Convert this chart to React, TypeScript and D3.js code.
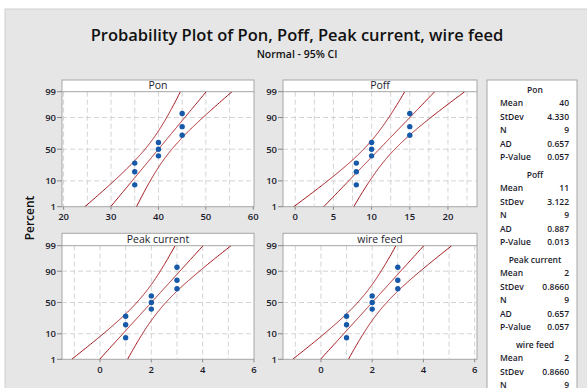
import React from 'react';
import * as d3 from 'd3';

const seriesNames = ['Pon', 'Poff', 'Peak current', 'wire feed'];
const ponValues = [35, 35, 35, 40, 40, 40, 45, 45, 45];
const poffValues = [8, 8, 8, 10, 10, 10, 15, 15, 15];
const peakValues = [1, 1, 1, 2, 2, 2, 3, 3, 3];
const wireValues = [1, 1, 1, 2, 2, 2, 3, 3, 3];
const allValues = [ponValues, poffValues, peakValues, wireValues];

const meanValues = [40, 11, 2, 2];
const stdevValues = [4.33, 3.122, 0.866, 0.866];
const meanLabels = ['40', '11', '2', '2'];
const stdevLabels = ['4.330', '3.122', '0.8660', '0.8660'];
const nLabels = ['9', '9', '9', '9'];
const adLabels = ['0.657', '0.887', '0.657', '0.657'];
const pLabels = ['0.057', '0.013', '0.057', '0.057'];

const xDomains: [number, number][] = [[19.66, 60.15], [-1.6, 23.8], [-1.48, 6.0], [-1.48, 6.09]];
const xTickValues = [[20, 30, 40, 50, 60], [0, 5, 10, 15, 20], [0, 2, 4, 6], [0, 2, 4, 6]];
const xGridSteps = [5, 2.5, 1, 1];
const yTickPercents = [1, 10, 50, 90, 99];
const yGridPercents = [10, 50, 90];

// inverse normal CDF (Acklam)
function qnorm(p: number): number {
  const a = [-3.969683028665376e1, 2.209460984245205e2, -2.759285104469687e2, 1.38357751867269e2, -3.066479806614716e1, 2.506628277459239];
  const b = [-5.447609879822406e1, 1.615858368580409e2, -1.556989798598866e2, 6.680131188771972e1, -1.328068155288572e1];
  const c = [-7.784894002430293e-3, -3.223964580411365e-1, -2.400758277161838, -2.549732539343734, 4.374664141464968, 2.938163982698783];
  const d = [7.784695709041462e-3, 3.224671290700398e-1, 2.445134137142996, 3.754408661907416];
  const pl = 0.02425;
  let q, r;
  if (p < pl) {
    q = Math.sqrt(-2 * Math.log(p));
    return (((((c[0] * q + c[1]) * q + c[2]) * q + c[3]) * q + c[4]) * q + c[5]) / ((((d[0] * q + d[1]) * q + d[2]) * q + d[3]) * q + 1);
  } else if (p <= 1 - pl) {
    q = p - 0.5; r = q * q;
    return (((((a[0] * r + a[1]) * r + a[2]) * r + a[3]) * r + a[4]) * r + a[5]) * q / (((((b[0] * r + b[1]) * r + b[2]) * r + b[3]) * r + b[4]) * r + 1);
  } else {
    q = Math.sqrt(-2 * Math.log(1 - p));
    return -(((((c[0] * q + c[1]) * q + c[2]) * q + c[3]) * q + c[4]) * q + c[5]) / ((((d[0] * q + d[1]) * q + d[2]) * q + d[3]) * q + 1);
  }
}

const W = 587, H = 388;
const cols = [[62, 254], [283, 477]];
const rows = [{ frameTop: 80, plotTop: 91.7, plotBottom: 206.7 }, { frameTop: 233.3, plotTop: 245.7, plotBottom: 359.3 }];
const FONT = '"Open Sans", "Noto Sans", sans-serif';
const textColor = '#1c1c2c';
const ciColor = '#a3171c';
const pointColor = '#1559a8';

function Panel({ idx }: { idx: number }) {
  const col = cols[idx % 2];
  const row = rows[Math.floor(idx / 2)];
  const x = d3.scaleLinear().domain(xDomains[idx]).range([col[0], col[1]]);
  const zLo = qnorm(0.01), zHi = qnorm(0.99);
  const y = d3.scaleLinear().domain([zLo, zHi]).range([row.plotBottom, row.plotTop]);
  const mu = meanValues[idx], sd = stdevValues[idx];
  const vals = allValues[idx];
  const n = vals.length;
  const ps = d3.range(0, 201).map(i => 0.01 + (0.98 * i) / 200);
  const line = d3.line<[number, number]>().x(d => x(d[0])).y(d => y(d[1]));
  const fit: [number, number][] = ps.map(p => { const z = qnorm(p); return [mu + sd * z, z]; });
  const lo: [number, number][] = ps.map(p => { const z = qnorm(p); const se = sd * Math.sqrt(1 / n + (z * z) / (2 * n)); return [mu + sd * z - 1.96 * se, z]; });
  const hi: [number, number][] = ps.map(p => { const z = qnorm(p); const se = sd * Math.sqrt(1 / n + (z * z) / (2 * n)); return [mu + sd * z + 1.96 * se, z]; });
  const sorted = [...vals].sort((a, b) => a - b);
  const pts = sorted.map((v, i) => ({ v, z: qnorm((i + 1 - 0.3) / (n + 0.4)) }));
  const [d0, d1] = xDomains[idx];
  const step = xGridSteps[idx];
  const grid = d3.range(Math.ceil(d0 / step) * step, d1 + 1e-9, step).filter(g => x(g) > col[0] + 1 && x(g) < col[1] - 1);
  const clipId = 'clip' + idx;
  return (
    <g>
      <defs>
        <clipPath id={clipId}><rect x={col[0]} y={row.plotTop} width={col[1] - col[0]} height={row.plotBottom - row.plotTop} /></clipPath>
      </defs>
      <rect x={col[0]} y={row.frameTop} width={col[1] - col[0]} height={row.plotBottom - row.frameTop} fill="#fff" stroke="#a6a6a6" strokeWidth={1} />
      {grid.map(g => <line key={'gx' + g} x1={x(g)} x2={x(g)} y1={row.plotTop} y2={row.plotBottom} stroke="#d4d4d4" strokeDasharray="5,3" />)}
      {yGridPercents.map(p => <line key={'gy' + p} x1={col[0]} x2={col[1]} y1={y(qnorm(p / 100))} y2={y(qnorm(p / 100))} stroke="#d4d4d4" strokeDasharray="5,3" />)}
      <line x1={col[0]} x2={col[1]} y1={row.plotTop} y2={row.plotTop} stroke="#a6a6a6" />
      <text x={(col[0] + col[1]) / 2} y={row.plotTop - 2.5} textAnchor="middle" fontFamily={FONT} fontSize={10.5} fill={textColor}>{seriesNames[idx]}</text>
      <g clipPath={`url(#${clipId})`}>
        <path d={line(lo) || ''} fill="none" stroke={ciColor} strokeWidth={1} />
        <path d={line(fit) || ''} fill="none" stroke={ciColor} strokeWidth={1} />
        <path d={line(hi) || ''} fill="none" stroke={ciColor} strokeWidth={1} />
      </g>
      {pts.map((pt, i) => <circle key={i} cx={x(pt.v)} cy={y(pt.z)} r={2.7} fill={pointColor} />)}
      {yTickPercents.map(p => (
        <g key={'yt' + p}>
          <line x1={col[0] - 5} x2={col[0]} y1={y(qnorm(p / 100))} y2={y(qnorm(p / 100))} stroke="#888" />
          <text x={col[0] - 6} y={y(qnorm(p / 100))} dy="0.35em" textAnchor="end" fontFamily={FONT} fontSize={9.5} fontWeight={600} fill={textColor}>{p}</text>
        </g>
      ))}
      {xTickValues[idx].map(t => (
        <g key={'xt' + t}>
          <line x1={x(t)} x2={x(t)} y1={row.plotBottom} y2={row.plotBottom + 3} stroke="#888" />
          <text x={x(t)} y={row.plotBottom + 13.5} textAnchor="middle" fontFamily={FONT} fontSize={9.5} fontWeight={600} fill={textColor}>{t}</text>
        </g>
      ))}
    </g>
  );
}

function Stats() {
  const bx = 487, by = 80, bw = 90;
  const rowLabels = ['Mean', 'StDev', 'N', 'AD', 'P-Value'];
  const headers = [90, 175, 260, 345];
  return (
    <g>
      <rect x={bx} y={by} width={bw} height={H - by + 10} fill="#fff" stroke="#a6a6a6" />
      {seriesNames.map((s, i) => {
        const vals = [meanLabels[i], stdevLabels[i], nLabels[i], adLabels[i], pLabels[i]];
        const hy = headers[i];
        return (
          <g key={s}>
            <text x={535} y={hy} dy="0.35em" textAnchor="middle" fontFamily={FONT} fontSize={8.5} fontWeight={600} fill={textColor}>{s}</text>
            {rowLabels.map((rl, k) => {
              const ry = hy + 13.5 + k * 13.4;
              return (
                <g key={rl}>
                  <text x={500} y={ry} dy="0.35em" fontFamily={FONT} fontSize={8.5} fontWeight={600} fill={textColor}>{rl}</text>
                  <text x={569} y={ry} dy="0.35em" textAnchor="end" fontFamily={FONT} fontSize={8.5} fontWeight={600} fill={textColor}>{vals[k]}</text>
                </g>
              );
            })}
          </g>
        );
      })}
    </g>
  );
}

export default function App() {
  return (
    <svg width={W} height={H} style={{ position: 'absolute', left: 0, top: 0 }}>
      <rect x={0} y={0} width={W} height={H} fill="#fff" />
      <rect x={5} y={9} width={W} height={H} fill="#e6e6e6" stroke="#cfcfcf" />
      <text x={297} y={40.5} textAnchor="middle" fontFamily={FONT} fontSize={16.5} fontWeight={600} fill="#111">Probability Plot of Pon, Poff, Peak current, wire feed</text>
      <text x={297} y={57.5} textAnchor="middle" fontFamily={FONT} fontSize={10.5} fontWeight={600} fill="#111">Normal - 95% CI</text>
      <text transform="translate(34,218) rotate(-90)" textAnchor="middle" fontFamily={FONT} fontSize={12} fontWeight={600} fill="#111">Percent</text>
      {[0, 1, 2, 3].map(i => <Panel key={i} idx={i} />)}
      <Stats />
    </svg>
  );
}
